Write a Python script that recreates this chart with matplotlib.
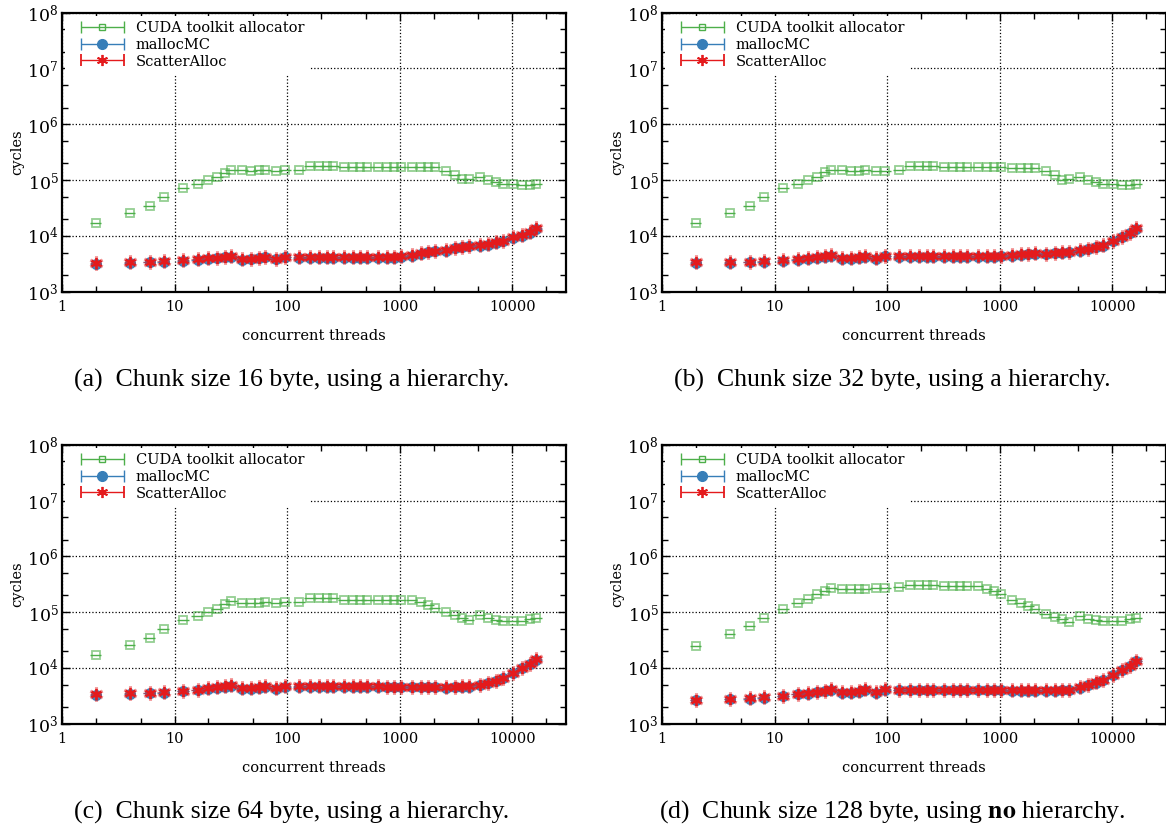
import numpy as np
import matplotlib.pyplot as plt
from matplotlib.ticker import LogLocator, NullFormatter
from matplotlib.container import ErrorbarContainer
from matplotlib.legend_handler import HandlerErrorbar

# === Data ===
threads = [2, 4, 6, 8, 12, 16, 20, 24, 28, 32, 40, 48, 56, 64, 80, 96,
           128, 160, 192, 224, 256, 320, 384, 448, 512, 640, 768, 896, 1024,
           1280, 1536, 1792, 2048, 2560, 3072, 3584, 4096, 5120, 6144, 7168, 8192,
           10240, 12288, 14336, 16384]

cuda_16 = [16700, 25300, 34200, 49000, 71000, 84800, 100000, 115000, 135000, 153000,
           149000, 147000, 149000, 151000, 147000, 151000,
           153000, 181000, 178000, 178000, 178000,
           171000, 171000, 171000, 171000,
           169000, 169000, 169000, 169000,
           169000, 169000, 169000, 169000,
           147000, 123000, 103000, 106000,
           115000, 100000, 92000, 86000,
           83600, 81400, 81400, 86000]
malloc_16 = [3200, 3300, 3350, 3400, 3600, 3700, 3900, 3950, 4150, 4200,
             3750, 3800, 3950, 4150, 3800, 4150,
             4100, 4100, 4100, 4100, 4100,
             4100, 4100, 4100, 4100,
             4050, 4050, 4100, 4200,
             4450, 4800, 5050, 5300,
             5450, 6000, 6250, 6500,
             6700, 7000, 7600, 8000,
             9200, 10100, 11400, 13300]
scatter_16 = [3300, 3400, 3440, 3490, 3690, 3790, 4010, 4060, 4240, 4300,
              3850, 3900, 4060, 4240, 3900, 4240,
              4180, 4180, 4180, 4180, 4180,
              4180, 4180, 4180, 4180,
              4150, 4150, 4180, 4300,
              4540, 4930, 5200, 5420,
              5570, 6140, 6400, 6670,
              6860, 7140, 7760, 8190,
              9400, 10350, 11700, 13600]

cuda_32 = [16700, 25300, 34200, 49000, 71000, 84800, 100000, 115000, 137000, 153000,
           149000, 147000, 147000, 149000, 147000, 147000,
           151000, 178000, 176000, 176000, 176000,
           171000, 171000, 171000, 169000,
           169000, 169000, 169000, 169000,
           166000, 166000, 166000, 166000,
           147000, 123000, 100000, 106000,
           115000, 100000, 92000, 86000,
           83600, 81400, 81400, 85000]
malloc_32 = [3250, 3250, 3350, 3400, 3600, 3750, 3900, 4080, 4200, 4380,
             3850, 3850, 4020, 4250, 3900, 4320,
             4200, 4250, 4200, 4200, 4200,
             4200, 4200, 4200, 4200,
             4200, 4200, 4250, 4320,
             4380, 4570, 4700, 4760,
             4700, 4900, 5040, 5100,
             5400, 5780, 6200, 6650,
             8050, 9500, 11200, 13400]
scatter_32 = [3350, 3350, 3440, 3490, 3690, 3850, 4010, 4180, 4300, 4480,
              3950, 3950, 4120, 4350, 4010, 4420,
              4300, 4350, 4300, 4300, 4300,
              4300, 4300, 4300, 4300,
              4300, 4300, 4350, 4420,
              4480, 4670, 4800, 4860,
              4800, 5000, 5140, 5200,
              5500, 5890, 6310, 6760,
              8190, 9660, 11400, 13600]

cuda_64 = [16800, 25800, 34400, 49000, 71000, 84900, 100000, 115000, 137000, 155000,
           147000, 145000, 147000, 149000, 147000, 149000,
           149000, 178000, 176000, 176000, 178000,
           168000, 168000, 168000, 168000,
           166000, 166000, 166000, 166000,
           166000, 149000, 132000, 119000,
           100000, 87200, 79200, 71000,
           87200, 77100, 72000, 68100,
           70000, 70000, 74000, 77100]
malloc_64 = [3300, 3440, 3490, 3590, 3780, 4000, 4180, 4420, 4600, 4800,
             4180, 4180, 4360, 4600, 4180, 4550,
             4550, 4600, 4600, 4600, 4600,
             4600, 4600, 4600, 4600,
             4550, 4500, 4500, 4480,
             4480, 4480, 4480, 4480,
             4420, 4480, 4550, 4600,
             4930, 5280, 5820, 6500,
             8000, 9800, 11600, 14000]
scatter_64 = [3390, 3530, 3580, 3680, 3880, 4100, 4280, 4520, 4710, 4900,
              4280, 4280, 4460, 4710, 4280, 4650,
              4650, 4710, 4710, 4710, 4710,
              4710, 4710, 4710, 4710,
              4650, 4600, 4600, 4580,
              4580, 4580, 4580, 4580,
              4520, 4580, 4650, 4710,
              5040, 5400, 5940, 6630,
              8150, 10000, 11800, 14300]

cuda_128 = [24400, 40500, 57000, 78200, 111600, 143000, 175000, 210000, 237000, 268000,
            264000, 264000, 264000, 264000, 268000, 268000,
            276000, 307000, 303000, 303000, 303000,
            299000, 299000, 299000, 296000,
            296000, 264000, 234000, 210000,
            164000, 145000, 128000, 113000,
            93400, 82600, 75000, 66300,
            84900, 76000, 73000, 69000,
            69000, 69000, 74000, 78200]
malloc_128 = [2620, 2720, 2800, 2880, 3080, 3350, 3450, 3640, 3790, 4060,
              3540, 3540, 3690, 4060, 3590, 4060,
              4000, 4000, 4000, 4000, 4000,
              4000, 4000, 4000, 4000,
              3950, 3950, 3950, 3950,
              3900, 3900, 3900, 3900,
              3900, 3900, 3950, 4000,
              4420, 4930, 5430, 6060,
              7450, 9050, 10800, 13100]
scatter_128 = [2690, 2790, 2870, 2950, 3160, 3430, 3530, 3730, 3880, 4160,
               3630, 3630, 3780, 4160, 3680, 4160,
               4100, 4100, 4100, 4100, 4100,
               4100, 4100, 4100, 4100,
               4050, 4050, 4050, 4050,
               4000, 4000, 4000, 4000,
               4000, 4000, 4050, 4100,
               4520, 5040, 5550, 6190,
               7600, 9210, 11000, 13300]

panels = [
    (cuda_16, malloc_16, scatter_16, "(a)  Chunk size 16 byte, using a hierarchy."),
    (cuda_32, malloc_32, scatter_32, "(b)  Chunk size 32 byte, using a hierarchy."),
    (cuda_64, malloc_64, scatter_64, "(c)  Chunk size 64 byte, using a hierarchy."),
    (cuda_128, malloc_128, scatter_128, r"(d)  Chunk size 128 byte, using $\mathbf{no}$ hierarchy."),
]

GREEN, BLUE, RED = "#4daf4a", "#377eb8", "#e41a1c"
STAR = (6, 2, 0)

plt.rcParams["font.family"] = ["DejaVu Serif"]
plt.rcParams["mathtext.fontset"] = "dejavuserif"
plt.rcParams["font.size"] = 10.5

W, H = 1166, 830
fig = plt.figure(figsize=(W / 100, H / 100), dpi=100)

# pixel boxes of the four axes (left, top), all 504 x 279 px
boxes = [(62, 12.7), (662, 12.7), (62, 444.7), (662, 444.7)]
caption_xy = [(292, 380), (892, 380), (292, 812), (892, 812)]

x = np.array(threads, dtype=float)
xerr = 0.12 * x  # horizontal bar width drawn through each marker

for (cuda, malloc, scatter, caption), (l, t), (cx, cy) in zip(panels, boxes, caption_xy):
    ax = fig.add_axes([l / W, 1 - (t + 279) / H, 504 / W, 279 / H])

    ax.errorbar(x, cuda, xerr=xerr, fmt='s', ms=5.3, mfc='none',
                mec=(0.302, 0.686, 0.29, 0.6), mew=1.3,
                ecolor=GREEN, elinewidth=1, capsize=0, zorder=3)
    ax.errorbar(x, malloc, xerr=xerr, fmt='o', ms=7, color=BLUE,
                mec=(0.216, 0.494, 0.722, 0.6), alpha=0.9,
                ecolor=BLUE, elinewidth=1, capsize=0, zorder=4)
    ax.errorbar(x, scatter, xerr=xerr, fmt='none', ecolor=RED,
                elinewidth=1, capsize=0, zorder=5, alpha=0.6)
    ax.plot(x, scatter, linestyle='none', marker=STAR, ms=10,
            mec=RED, mew=2.2, alpha=0.45, zorder=5)
    ax.plot(x, scatter, linestyle='none', marker=STAR, ms=8,
            mec=RED, mew=1.3, zorder=6)

    # legend proxies
    nan = [np.nan]
    h1 = ax.errorbar(nan, nan, xerr=[1], fmt='s', ms=5, mfc='none', mec=GREEN,
                     mew=1, ecolor=GREEN, elinewidth=1, capsize=4,
                     label='CUDA toolkit allocator')
    h2 = ax.errorbar(nan, nan, xerr=[1], fmt='o', ms=7, color=BLUE,
                     ecolor=BLUE, elinewidth=1, capsize=4, label='mallocMC')
    h3 = ax.errorbar(nan, nan, xerr=[1], linestyle='none', marker=STAR, ms=8,
                     mec=RED, mew=1.3, ecolor=RED, elinewidth=1, capsize=4,
                     label='ScatterAlloc')

    ax.set_xscale('log')
    ax.set_yscale('log')
    ax.set_xlim(1, 30000)
    ax.set_ylim(1e3, 1e8)

    ax.set_xticks([1, 10, 100, 1000, 10000], ['1', '10', '100', '1000', '10000'])
    ax.xaxis.set_minor_locator(LogLocator(base=10, subs=(2, 5), numticks=20))
    ax.xaxis.set_minor_formatter(NullFormatter())
    ax.yaxis.set_major_locator(LogLocator(base=10, numticks=10))
    ax.yaxis.set_minor_locator(LogLocator(base=10, subs=(2, 5), numticks=20))
    ax.yaxis.set_minor_formatter(NullFormatter())

    ax.tick_params(which='both', direction='in', top=True, right=True, width=1)
    ax.tick_params(which='major', length=6)
    ax.tick_params(which='minor', length=4)
    ax.tick_params(axis='x', which='major', pad=6)
    ax.tick_params(axis='y', which='major', pad=2.5, labelsize=12.5)
    for sp in ax.spines.values():
        sp.set_linewidth(1.6)

    ax.grid(True, which='major', linestyle=':', color='black', linewidth=0.9)
    ax.set_axisbelow(True)

    ax.set_xlabel('concurrent threads')
    ax.set_ylabel('cycles')
    ax.xaxis.set_label_coords(0.5, -0.135)
    ax.yaxis.set_label_coords(-0.075, 0.5)

    leg = ax.legend(handles=[h1, h2, h3], loc='upper left', frameon=True,
                    facecolor='white', edgecolor='none', framealpha=1,
                    fancybox=False, borderaxespad=0.2, borderpad=0.35,
                    handlelength=4.4, handletextpad=0.1, labelspacing=0.2,
                    handler_map={ErrorbarContainer: HandlerErrorbar(xerr_size=1.47)})
    leg.set_zorder(10)

    fig.text(cx / W, 1 - cy / H, caption, ha='center', va='center',
             fontsize=18.5, family='Liberation Serif', math_fontfamily='stix')

fig.savefig('out.png', dpi=100)
